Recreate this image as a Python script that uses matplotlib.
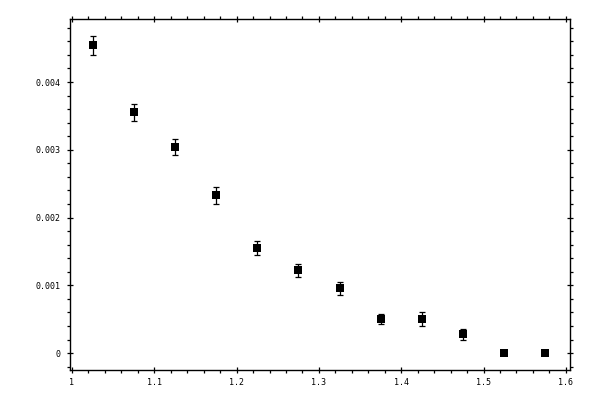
import matplotlib
matplotlib.use("Agg")
import matplotlib.pyplot as plt
from matplotlib.ticker import MultipleLocator, FuncFormatter

x_vals = [1.025, 1.075, 1.125, 1.175, 1.225, 1.275, 1.325, 1.375, 1.425, 1.475, 1.525, 1.575]
y_vals = [0.004545, 0.003555, 0.00304, 0.00233, 0.001546, 0.00122, 0.000955, 0.000502, 0.000502, 0.000276, 0.0, 0.0]
y_errs = [0.00014, 0.000123, 0.000118, 0.000125, 0.000103, 0.0001, 0.000096, 0.00007, 0.0001, 0.000078, 0.0, 0.0]

fig = plt.figure(figsize=(6, 4), dpi=100)
ax = fig.add_axes([70/600, 1-370/400, 500/600, (370-19)/400])

ax.errorbar(x_vals, y_vals, yerr=y_errs, fmt='none', ecolor='black',
            elinewidth=0.9, capsize=2, capthick=0.9)
ax.plot(x_vals, y_vals, 's', color='black', markersize=5.2, markeredgewidth=0)

ax.set_xlim(0.9976, 1.605)
ax.set_ylim(-0.00025, 0.00493)

ax.xaxis.set_major_locator(MultipleLocator(0.1))
ax.xaxis.set_minor_locator(MultipleLocator(0.02))
ax.yaxis.set_major_locator(MultipleLocator(0.001))
ax.yaxis.set_minor_locator(MultipleLocator(0.0002))

ax.xaxis.set_major_formatter(FuncFormatter(lambda v, p: ('%g' % round(v, 3))))
ax.yaxis.set_major_formatter(FuncFormatter(lambda v, p: '0' if abs(v) < 1e-12 else '%.3f' % v))

for s in ax.spines.values():
    s.set_linewidth(1.0)

ax.tick_params(which='major', direction='inout', length=5, width=0.9,
               top=True, right=True, labelsize=6)
ax.tick_params(which='minor', direction='out', length=2.5, width=0.9,
               top=True, right=True)
ax.tick_params(axis='y', which='major', pad=4)
ax.tick_params(axis='x', which='major', pad=3)
for lab in ax.get_xticklabels() + ax.get_yticklabels():
    lab.set_family('DejaVu Sans Mono')

fig.savefig('out.png', dpi=100)
